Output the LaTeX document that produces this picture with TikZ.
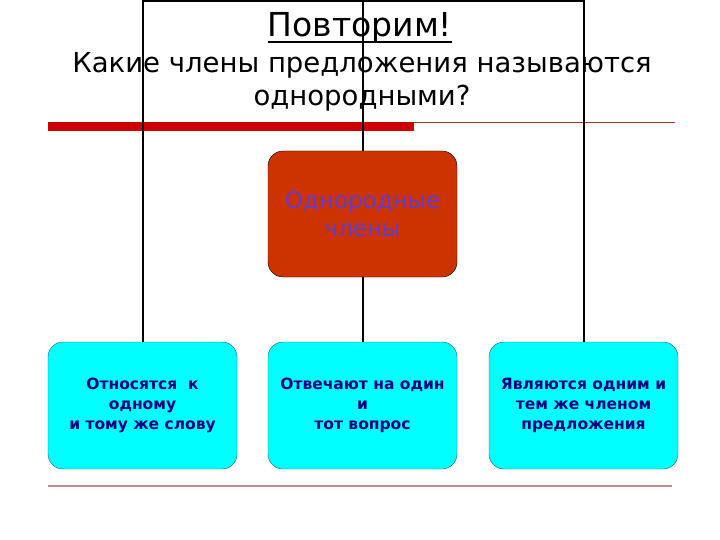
\documentclass[tikz,border=0pt]{standalone}
\usepackage{fontspec}
\setmainfont{DejaVu Sans}
\usetikzlibrary{positioning}

\definecolor{barred}{RGB}{204,0,0}
\definecolor{thinred}{RGB}{176,48,48}
\definecolor{rosy}{RGB}{192,136,136}
\definecolor{hubfill}{RGB}{204,51,0}
\definecolor{hubtext}{RGB}{100,60,200}
\definecolor{leafcyan}{RGB}{0,255,255}
\definecolor{boxtext}{RGB}{0,0,128}
\definecolor{boxedge}{RGB}{30,100,100}

\tikzset{
  hubbox/.style={draw=black, fill=hubfill, rounded corners=15pt, inner sep=0pt,
    minimum width=189pt, minimum height=126pt, align=center, text=hubtext,
    font=\fontsize{23}{28}\selectfont},
  leafbox/.style={draw=boxedge, fill=leafcyan, rounded corners=15pt, inner sep=0pt,
    minimum width=189pt, minimum height=127pt, align=center, text=boxtext,
    font=\fontsize{15.5}{20}\selectfont\bfseries},
  link/.style={draw=black, line width=2pt}
}

\begin{document}
\begin{tikzpicture}[x=1pt, y=-1pt]

    \useasboundingbox (0,0) rectangle (720,540);

    \fill[barred] (48,122.5) rectangle (414,131.5);
    \draw[thinred, line width=1pt] (414,123) -- (675,123);
    \draw[rosy, line width=2pt] (48,485.5) -- (672,485.5);

    \node[anchor=base, inner sep=0pt, font=\fontsize{33}{40}\selectfont] (title) at (360,37) {Повторим!};
    \draw[line width=2pt] ([yshift=-5pt]title.base west) -- ([yshift=-5pt]title.base east);
    \node[anchor=base, font=\fontsize{27.5}{33}\selectfont] (ask1) at (362,73) {Какие члены предложения называются};
    \node[anchor=base, font=\fontsize{27.5}{33}\selectfont] (ask2) at (362,106) {однородными?};

    \node[hubbox] (hub) at (362.5,214) {Однородные\\ члены};

    \node[leafbox] (left) at (142.5,405.5) {Относятся \ к\\одному\\и тому же слову};
    \node[leafbox] (mid) at (362.5,405.5) {Отвечают на один\\и\\тот вопрос};
    \node[leafbox] (right) at (583.5,405.5) {Являются одним и\\тем же членом\\предложения};

    \coordinate (top) at (362.5,1);

    \draw[link] (left.north) |- (top) -| (right.north);
    \draw[link] (hub.north) -- (top);
    \draw[link] (hub.south) -- (mid.north);

\end{tikzpicture}
\end{document}
